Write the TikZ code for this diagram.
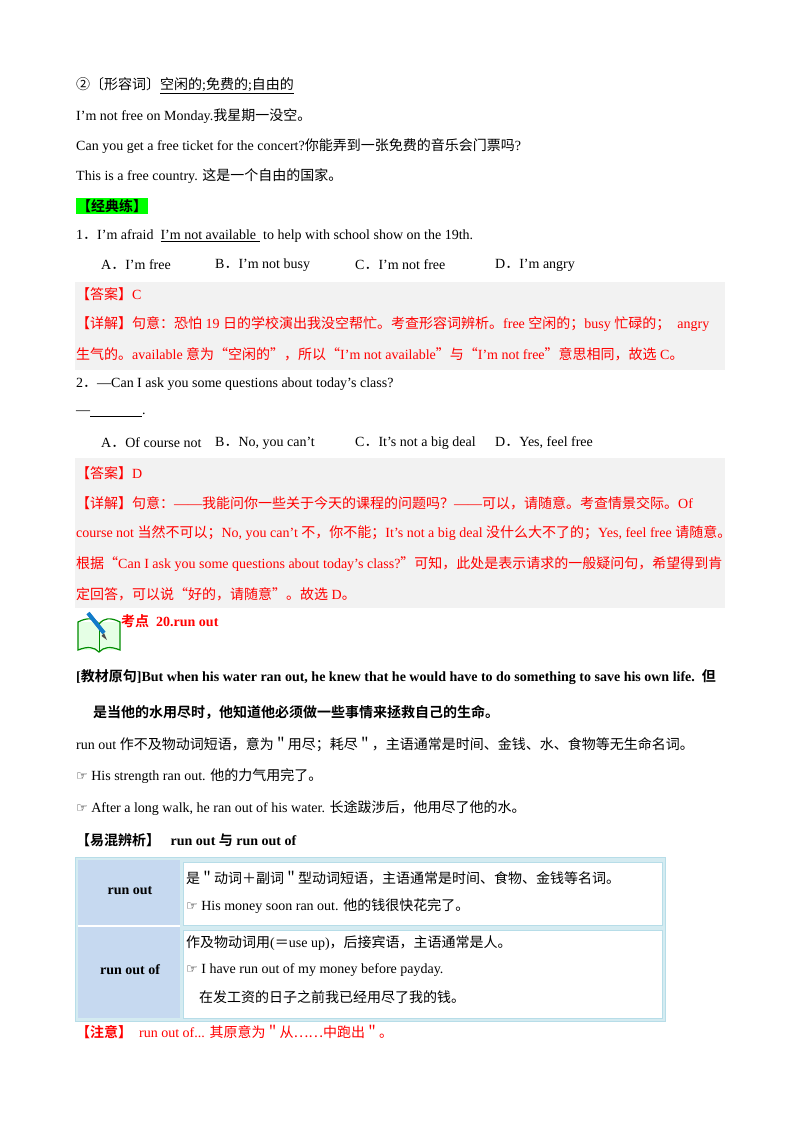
\documentclass[tikz,border=0pt]{standalone}
\usepackage{fontspec}
\setmainfont{Liberation Serif}
\newfontfamily\cjk{Noto Sans CJK SC}[BoldFont={Noto Sans CJK SC Bold}]
\newfontfamily\djv{DejaVu Sans}
\XeTeXinterchartokenstate=1
\newXeTeXintercharclass\CJKcls
\count255="3000
\loop \XeTeXcharclass\count255=\CJKcls \advance\count255 by 1 \ifnum\count255<"A000 \repeat
\count255="FF00
\loop \XeTeXcharclass\count255=\CJKcls \advance\count255 by 1 \ifnum\count255<"FFF0 \repeat
\count255="2460
\loop \XeTeXcharclass\count255=\CJKcls \advance\count255 by 1 \ifnum\count255<"2500 \repeat
\XeTeXcharclass"201C=\CJKcls
\XeTeXcharclass"201D=\CJKcls
\XeTeXcharclass"2026=\CJKcls
\XeTeXinterchartoks 0 \CJKcls = {\begingroup\cjk}
\XeTeXinterchartoks 4095 \CJKcls = {\begingroup\cjk}
\XeTeXinterchartoks \CJKcls 0 = {\endgroup}
\XeTeXinterchartoks \CJKcls 4095 = {\endgroup}
\definecolor{myred}{HTML}{FF0000}
\definecolor{graybg}{HTML}{F2F2F2}
\definecolor{green1}{HTML}{00FF00}
\definecolor{tblue}{HTML}{C6D9F0}
\definecolor{tframe}{HTML}{B7DDE8}
\newcommand{\hand}{{\djv\fontsize{13}{15}\selectfont ☞}}
\begin{document}
\begin{tikzpicture}[x=1pt,y=-1pt,
  txt/.style={anchor=west,inner sep=0pt,font=\fontsize{14}{16}\selectfont},
  rtxt/.style={txt,text=myred},
  btxt/.style={txt,font=\fontsize{14}{16}\selectfont\bfseries}]
\useasboundingbox (0,0) rectangle (800,1132);
\fill[white] (0,0) rectangle (800,1132);
\fill[graybg] (75,282) rectangle (725,370);
\fill[graybg] (75,458) rectangle (725,608);
\node[txt] (l1) at (76,86) {②〔形容词〕\underline{空闲的;免费的;自由的}};
\node[txt] (l2) at (76,116) {I'm not free on Monday.我星期一没空。};
\node[txt] (l3) at (76,146) {Can you get a free ticket for the concert?你能弄到一张免费的音乐会门票吗?};
\node[txt] (l4) at (76,176) {This is a free country. 这是一个自由的国家。};
\node[btxt,fill=green1,inner sep=1pt] (l5) at (76,206) {【经典练】};
\node[txt] (q1) at (76,236) {1．I’m afraid\ \ \underline{I’m not available\ }\ to help with school show on the 19th.};
\node[txt] (q1a) at (101,265) {A．I’m free};
\node[txt] (q1b) at (215,265) {B．I’m not busy};
\node[txt] (q1c) at (355,265) {C．I’m not free};
\node[txt] (q1d) at (495,265) {D．I’m angry};
\node[rtxt] (a1) at (76,294) {【答案】C};
\node[rtxt] (e1) at (76,324) {【详解】句意：恐怕 19 日的学校演出我没空帮忙。考查形容词辨析。free 空闲的；busy 忙碌的；\ \ angry};
\node[rtxt] (e1b) at (76,354) {生气的。available 意为“空闲的”，所以“I’m not available”与“I’m not free”意思相同，故选 C。};
\node[txt] (q2) at (76,384) {2．—Can I ask you some questions about today’s class?};
\node[txt] (q2l) at (76,414) {—\underline{\hspace{52pt}}.};
\node[txt] (q2a) at (101,443) {A．Of course not};
\node[txt] (q2b) at (215,443) {B．No, you can’t};
\node[txt] (q2c) at (355,443) {C．It’s not a big deal};
\node[txt] (q2d) at (495,443) {D．Yes, feel free};
\node[rtxt] (a2) at (76,473) {【答案】D};
\node[rtxt] (e2) at (76,503) {【详解】句意：——我能问你一些关于今天的课程的问题吗？——可以，请随意。考查情景交际。Of};
\node[rtxt] (e2b) at (76,533) {course not 当然不可以；No, you can’t 不，你不能；It’s not a big deal 没什么大不了的；Yes, feel free 请随意。};
\node[rtxt] (e2c) at (76,564) {根据“Can I ask you some questions about today’s class?”可知，此处是表示请求的一般疑问句，希望得到肯};
\node[rtxt] (e2d) at (76,594) {定回答，可以说“好的，请随意”。故选 D。};
% book icon
\fill[green!10] (78,622) rectangle (120,650);
\draw[green!55!black,line width=1.2pt] (78,622) .. controls (88,617) and (94,618) .. (99,624) .. controls (104,618) and (110,617) .. (120,622) -- (120,650) .. controls (110,646) and (104,647) .. (99,652) .. controls (94,647) and (88,646) .. (78,650) -- cycle;
\draw[green!55!black] (99,624) -- (99,652);
\draw[line width=4pt,cyan!60!blue] (88,613) -- (104,633);
\fill[black!70] (104,633) -- (107,640) -- (101.5,636) -- cycle;
\node[btxt,text=myred] (kd) at (121,621) {考点\ \ 20.run out};
\node[btxt] (src) at (76,677) {[教材原句]But when his water ran out, he knew that he would have to do something to save his own life.\ \ 但};
\node[btxt] (src2) at (93,712) {是当他的水用尽时，他知道他必须做一些事情来拯救自己的生命。};
\node[txt] (r1) at (76,744) {run out 作不及物动词短语，意为＂用尽；耗尽＂，主语通常是时间、金钱、水、食物等无生命名词。};
\node[txt] (r2) at (76,776) {\hand\ His strength ran out. 他的力气用完了。};
\node[txt] (r3) at (76,808) {\hand\ After a long walk, he ran out of his water. 长途跋涉后，他用尽了他的水。};
\node[btxt] (yh) at (76,840) {【易混辨析】\ \ \ run out 与 run out of};
% table
\fill[tframe!60] (75,857) rectangle (665,1021);
\draw[tframe,line width=1pt] (75,857) rectangle (665,1021);
\fill[tblue] (78,860) rectangle (180,1018);
\draw[white,line width=1.5pt] (78,926) -- (180,926);
\fill[white] (183,862) rectangle (662,925);
\draw[tframe,line width=1pt] (183,862) rectangle (662,925);
\fill[white] (183,930) rectangle (662,1018);
\draw[tframe,line width=1pt] (183,930) rectangle (662,1018);
\node[btxt,anchor=center] (c1) at (130,891) {run out};
\node[btxt,anchor=center] (c2) at (130,970) {run out of};
\node[txt] (t1) at (186,878) {是＂动词＋副词＂型动词短语，主语通常是时间、食物、金钱等名词。};
\node[txt] (t2) at (186,906) {\hand\ His money soon ran out. 他的钱很快花完了。};
\node[txt] (t3) at (186,943) {作及物动词用(＝use up)，后接宾语，主语通常是人。};
\node[txt] (t4) at (186,970) {\hand\ I have run out of my money before payday.};
\node[txt] (t5) at (199,997) {在发工资的日子之前我已经用尽了我的钱。};
\node[rtxt] (zy) at (76,1032) {\textbf{【注意】}\ \ run out of... 其原意为＂从……中跑出＂。};
\end{tikzpicture}
\end{document}
